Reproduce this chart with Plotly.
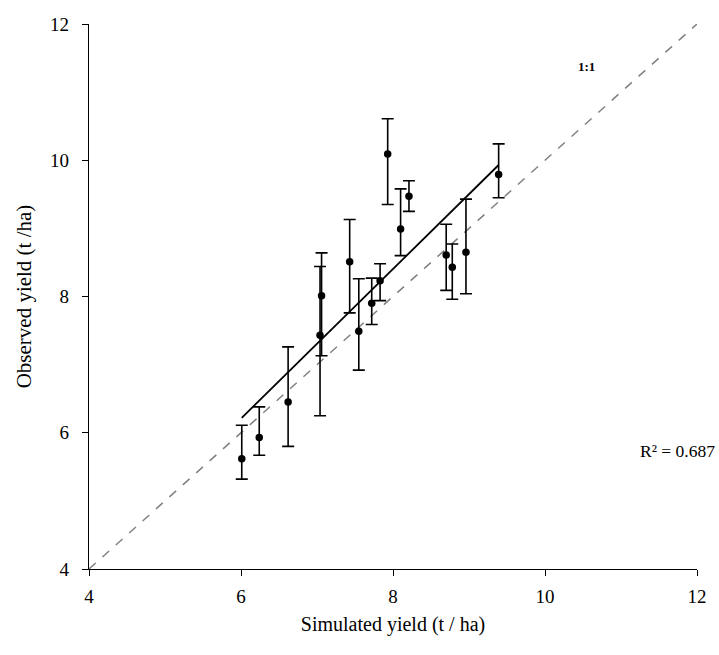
import plotly.graph_objects as go

sim = [6.01, 6.24, 6.62, 7.04, 7.06, 7.43, 7.55, 7.72, 7.83, 7.93, 8.10, 8.21, 8.70, 8.78, 8.96, 9.39]
obs = [5.62, 5.93, 6.45, 7.43, 8.01, 8.51, 7.49, 7.90, 8.23, 10.09, 8.99, 9.47, 8.61, 8.43, 8.65, 9.79]
err_hi = [6.11, 6.38, 7.26, 8.44, 8.64, 9.13, 8.26, 8.27, 8.48, 10.61, 9.58, 9.70, 9.06, 8.77, 9.43, 10.24]
err_lo = [5.32, 5.67, 5.80, 6.25, 7.13, 7.76, 6.92, 7.59, 7.94, 9.35, 8.60, 9.25, 8.09, 7.96, 8.04, 9.45]

trend_slope = 1.098
trend_intercept = -0.38
r2_text = "R² = 0.687"
axis_ticks = [4, 6, 8, 10, 12]

up = [h - o for h, o in zip(err_hi, obs)]
down = [o - l for l, o in zip(err_lo, obs)]

FONT = "Liberation Serif"

fig = go.Figure()

# 1:1 line
fig.add_trace(go.Scatter(x=[4, 12], y=[4, 12], mode="lines",
                         line=dict(color="#808080", width=1.5, dash="dash"),
                         hoverinfo="skip", showlegend=False))

# trend line
tx = [min(sim), max(sim)]
ty = [trend_slope * v + trend_intercept for v in tx]
fig.add_trace(go.Scatter(x=tx, y=ty, mode="lines",
                         line=dict(color="black", width=1.8),
                         showlegend=False))

fig.add_trace(go.Scatter(
    x=sim, y=obs, mode="markers",
    marker=dict(color="black", size=7.5),
    error_y=dict(type="data", symmetric=False, array=up, arrayminus=down,
                 color="black", thickness=1.6, width=6),
    showlegend=False))

fig.add_annotation(x=10.55, y=11.37, text="<b>1:1</b>", showarrow=False,
                   font=dict(family=FONT, size=13, color="black"))
fig.add_annotation(xref="paper", x=1.033, y=5.73, xanchor="right", text=r2_text,
                   showarrow=False, font=dict(family=FONT, size=17.5, color="black"))

axis_common = dict(range=[4, 12], tickvals=axis_ticks, showgrid=False, zeroline=False,
                   showline=True, linecolor="black", linewidth=1.4,
                   ticks="outside", ticklen=6, tickwidth=1.4, tickcolor="black",
                   tickfont=dict(family=FONT, size=19, color="black"))

fig.update_xaxes(**axis_common, ticklabelstandoff=4,
                 title=dict(text="Simulated yield (t / ha)", standoff=10,
                            font=dict(family=FONT, size=20, color="black")))
fig.update_yaxes(**axis_common, ticklabelstandoff=9,
                 title=dict(text="Observed yield (t /ha)", standoff=12,
                            font=dict(family=FONT, size=21, color="black")))

fig.update_layout(width=719, height=655,
                  margin=dict(l=89, r=17, t=24, b=86),
                  plot_bgcolor="white", paper_bgcolor="white",
                  font=dict(family=FONT, color="black"))

fig.write_html("out.html", config={"displayModeBar": False},
               post_script="document.body.style.margin='0';")
